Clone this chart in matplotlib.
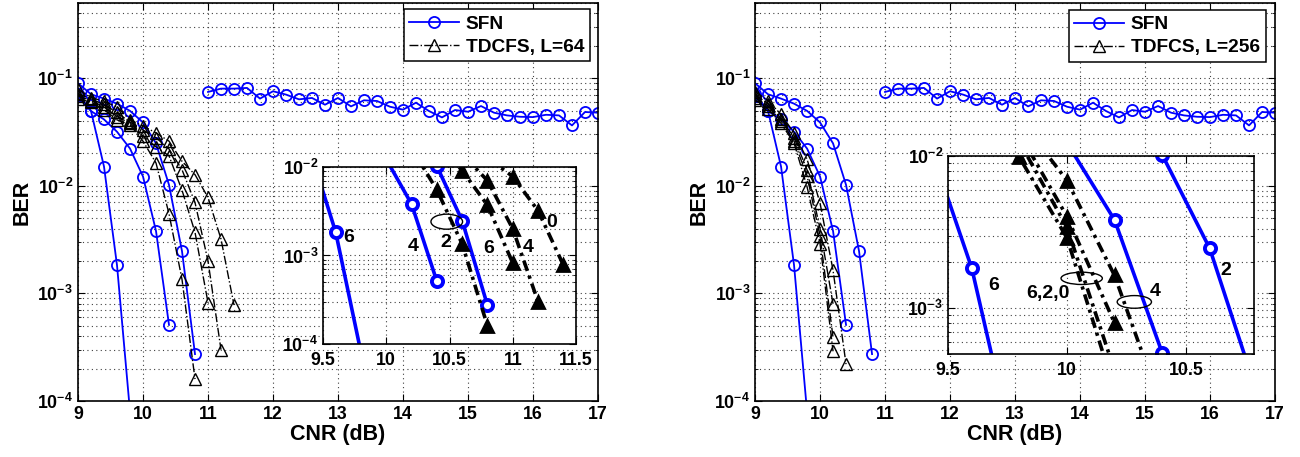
import numpy as np
import matplotlib
matplotlib.use('Agg')
import matplotlib.pyplot as plt
from matplotlib.patches import Ellipse
from matplotlib.ticker import FixedLocator, LogLocator, NullFormatter, FixedFormatter

plt.rcParams['font.family'] = ['Liberation Sans', 'DejaVu Sans']
plt.rcParams['font.weight'] = 'bold'
plt.rcParams['mathtext.fontset'] = 'custom'
plt.rcParams['mathtext.rm'] = 'Liberation Sans:bold'
plt.rcParams['mathtext.bf'] = 'Liberation Sans:bold'
plt.rcParams['mathtext.it'] = 'Liberation Sans:bold'
plt.rcParams['mathtext.default'] = 'rm'

# ---------------- data ----------------
# SFN, 0 dB (flat, error floor) - identical in both panels
cnr_sfn0 = [11.0, 11.2, 11.4, 11.6, 11.8, 12.0, 12.2, 12.4, 12.6, 12.8, 13.0, 13.2, 13.4, 13.6,
            13.8, 14.0, 14.2, 14.4, 14.6, 14.8, 15.0, 15.2, 15.4, 15.6, 15.8, 16.0, 16.2, 16.4,
            16.6, 16.8, 17.0]
ber_sfn0 = [0.0745, 0.0800, 0.0800, 0.0812, 0.0646, 0.0756, 0.0704, 0.0636, 0.0655, 0.0567,
            0.0655, 0.0547, 0.0623, 0.0614, 0.0543, 0.0510, 0.0592, 0.0495, 0.0432, 0.0506,
            0.0488, 0.0551, 0.0478, 0.0451, 0.0438, 0.0435, 0.0457, 0.0451, 0.0364, 0.0485,
            0.0478]
# SFN descending curves
cnr_sfn6 = [9.0, 9.2, 9.4, 9.6, 9.8]
ber_sfn6 = [0.068, 0.0495, 0.0151, 0.00183, 8e-5]
cnr_sfn4 = [9.0, 9.2, 9.4, 9.6, 9.8, 10.0, 10.2, 10.4]
ber_sfn4 = [0.072, 0.0495, 0.0414, 0.0318, 0.0222, 0.0122, 0.0038, 5.1e-4]
cnr_sfn2 = [9.0, 9.2, 9.4, 9.6, 9.8, 10.0, 10.2, 10.4, 10.6, 10.8]
ber_sfn2 = [0.0898, 0.0709, 0.0646, 0.058, 0.0497, 0.0388, 0.0248, 0.0102, 0.00247, 2.73e-4]

# TDCFS, L=64 (left)
cnr_t64_0 = [9.0, 9.2, 9.4, 9.6, 9.8, 10.0, 10.2, 10.4, 10.6, 10.8, 11.0, 11.2, 11.4]
ber_t64_0 = [0.079, 0.066, 0.061, 0.054, 0.041, 0.036, 0.031, 0.026, 0.0169, 0.0127, 0.0078, 0.0032, 7.8e-4]
cnr_t64_4 = [9.0, 9.2, 9.4, 9.6, 9.8, 10.0, 10.2, 10.4, 10.6, 10.8, 11.0, 11.2]
ber_t64_4 = [0.072, 0.064, 0.057, 0.048, 0.039, 0.033, 0.028, 0.022, 0.0141, 0.0070, 0.0020, 3.0e-4]
cnr_t64_6 = [9.0, 9.2, 9.4, 9.6, 9.8, 10.0, 10.2, 10.4, 10.6, 10.8, 11.0]
ber_t64_6 = [0.068, 0.062, 0.054, 0.044, 0.038, 0.029, 0.023, 0.019, 0.0091, 0.0037, 8.2e-4]
cnr_t64_2 = [9.0, 9.2, 9.4, 9.6, 9.8, 10.0, 10.2, 10.4, 10.6, 10.8]
ber_t64_2 = [0.064, 0.060, 0.051, 0.041, 0.037, 0.026, 0.0163, 0.0055, 0.00135, 1.6e-4]

# TDFCS, L=256 (right)
cnr_t256_4 = [9.0, 9.2, 9.4, 9.6, 9.8, 10.0, 10.2, 10.4]
ber_t256_4 = [0.075, 0.062, 0.046, 0.031, 0.0177, 0.0069, 0.00164, 2.2e-4]
cnr_t256_0 = [9.0, 9.2, 9.4, 9.6, 9.8, 10.0, 10.2]
ber_t256_0 = [0.070, 0.058, 0.042, 0.028, 0.0141, 0.0040, 8.0e-4]
cnr_t256_2 = [9.0, 9.2, 9.4, 9.6, 9.8, 10.0, 10.2]
ber_t256_2 = [0.066, 0.055, 0.040, 0.026, 0.0124, 0.0034, 3.9e-4]
cnr_t256_6 = [9.0, 9.2, 9.4, 9.6, 9.8, 10.0, 10.2]
ber_t256_6 = [0.063, 0.052, 0.038, 0.025, 0.0098, 0.0029, 2.9e-4]

x_ticks = [9, 10, 11, 12, 13, 14, 15, 16, 17]
y_ticks = [1e-4, 1e-3, 1e-2, 1e-1]
y_ticklabels = [r'$10^{-4}$', r'$10^{-3}$', r'$10^{-2}$', r'$10^{-1}$']
legend_labels_left = ['SFN', 'TDCFS, L=64']
legend_labels_right = ['SFN', 'TDFCS, L=256']

# ---------------- styles ----------------
BLUE = '#0000ff'
sfn_kw = dict(color=BLUE, lw=1.3, marker='o', ms=8, mfc='none', mew=1.3)
tri_kw = dict(color='k', lw=1.0, ls='-.', marker='^', ms=8, mfc='none', mew=1.0)
sfn_in = dict(color=BLUE, lw=2.6, marker='o', ms=8, mfc='white', mew=2.8)
tri_in = dict(color='k', lw=2.6, ls=(0, (3.0, 1.4, 0.9, 1.4)), marker='^', ms=9, mfc='k', mew=2.0)
grid_kw = dict(color='0.25', lw=0.8, linestyle=(0, (1, 3)))
TFS = 12.8


def style_axes(ax, xt, xtl, xlim, ylim, yt, ytl, xpad=3.5):
    ax.set_yscale('log')
    ax.set_xlim(*xlim)
    ax.set_ylim(*ylim)
    ax.xaxis.set_major_locator(FixedLocator(xt))
    ax.xaxis.set_major_formatter(FixedFormatter(xtl))
    ax.yaxis.set_major_locator(FixedLocator(yt))
    ax.yaxis.set_major_formatter(FixedFormatter(ytl))
    ax.yaxis.set_minor_locator(LogLocator(base=10, subs=np.arange(2, 10), numticks=20))
    ax.yaxis.set_minor_formatter(NullFormatter())
    ax.grid(True, which='major', axis='both', **grid_kw)
    ax.grid(True, which='minor', axis='y', **grid_kw)
    ax.tick_params(which='both', direction='in', top=True, right=True, labelsize=TFS)
    ax.tick_params(which='major', length=5, width=0.8)
    ax.tick_params(which='minor', length=2.5, width=0.6)
    ax.tick_params(axis='x', pad=xpad)
    for s in ax.spines.values():
        s.set_linewidth(1.2)
    for lab in ax.get_xticklabels() + ax.get_yticklabels():
        lab.set_fontweight('bold')


fig = plt.figure(figsize=(13, 4.57), dpi=100)

panels = [
    dict(rect=[0.06, 0.1225, 0.40, 0.871],
         inset=[0.2485, 0.2473, 0.1946, 0.3873],
         tdc=[(cnr_t64_0, ber_t64_0), (cnr_t64_4, ber_t64_4), (cnr_t64_6, ber_t64_6), (cnr_t64_2, ber_t64_2)],
         leg=legend_labels_left, leg_anchor=(0.985, 0.984),
         ixlim=(9.5, 11.5), iylim=(1e-4, 1e-2), ixt=[9.5, 10, 10.5, 11, 11.5],
         ixtl=['9.5', '10', '10.5', '11', '11.5'],
         iyt=[1e-4, 1e-3, 1e-2], iytl=[r'$10^{-4}$', r'$10^{-3}$', r'$10^{-2}$'],
         texts=[('6', 0.10, 0.60), ('4', 0.357, 0.55), ('2', 0.485, 0.572),
                ('6', 0.656, 0.541), ('4', 0.809, 0.546), ('0', 0.904, 0.688)],
         ellipses=[(0.489, 0.691, 0.125, 0.085)]),
    dict(rect=[0.5808, 0.1225, 0.40, 0.871],
         inset=[0.7292, 0.2254, 0.2354, 0.4333],
         tdc=[(cnr_t256_4, ber_t256_4), (cnr_t256_0, ber_t256_0), (cnr_t256_2, ber_t256_2), (cnr_t256_6, ber_t256_6)],
         leg=legend_labels_right, leg_anchor=(0.982, 0.982),
         ixlim=(9.5, 10.786), iylim=(5e-4, 1e-2), ixt=[9.5, 10, 10.5],
         ixtl=['9.5', '10', '10.5'],
         iyt=[1e-3, 1e-2], iytl=[r'$10^{-3}$', r'$10^{-2}$'],
         texts=[('6', 0.151, 0.348), ('6,2,0', 0.328, 0.303), ('4', 0.676, 0.315), ('2', 0.908, 0.424)],
         ellipses=[(0.437, 0.382, 0.135, 0.062), (0.609, 0.263, 0.112, 0.064)]),
]

for p in panels:
    ax = fig.add_axes(p['rect'])
    h_sfn, = ax.plot(cnr_sfn0, ber_sfn0, **sfn_kw)
    for c, b in [(cnr_sfn6, ber_sfn6), (cnr_sfn4, ber_sfn4), (cnr_sfn2, ber_sfn2)]:
        ax.plot(c, b, **sfn_kw)
    h_tdc = None
    for c, b in p['tdc']:
        h, = ax.plot(c, b, **tri_kw)
        h_tdc = h_tdc or h
    style_axes(ax, x_ticks, [str(v) for v in x_ticks], (9, 17), (1e-4, 0.5), y_ticks, y_ticklabels)
    ax.set_xlabel('CNR (dB)', fontsize=15.5, fontweight='bold', labelpad=1)
    ax.set_ylabel('BER', fontsize=15.5, fontweight='bold', labelpad=3)
    leg = ax.legend([h_sfn, h_tdc], p['leg'], loc='upper right', bbox_to_anchor=p['leg_anchor'],
                    borderaxespad=0, fancybox=False, framealpha=1, edgecolor='k',
                    prop=dict(size=13.8, weight='bold'), handlelength=2.6, handletextpad=0.35,
                    borderpad=0.3, labelspacing=0.3)
    leg.get_frame().set_linewidth(1.1)

    ai = fig.add_axes(p['inset'])
    ai.set_facecolor('white')
    for c, b in [(cnr_sfn6, ber_sfn6), (cnr_sfn4, ber_sfn4), (cnr_sfn2, ber_sfn2)]:
        ai.plot(c, b, **sfn_in)
    for c, b in p['tdc']:
        ai.plot(c, b, **tri_in)
    style_axes(ai, p['ixt'], p['ixtl'], p['ixlim'], p['iylim'], p['iyt'], p['iytl'], xpad=6)
    for t, x, y in p['texts']:
        ai.text(x, y, t, transform=ai.transAxes, fontsize=14, fontweight='bold',
                ha='center', va='center')
    for x, y, w, h in p['ellipses']:
        ai.add_patch(Ellipse((x, y), w, h, transform=ai.transAxes, fill=False,
                             edgecolor='k', lw=1.0, zorder=5))

fig.savefig('out.png', dpi=100)
